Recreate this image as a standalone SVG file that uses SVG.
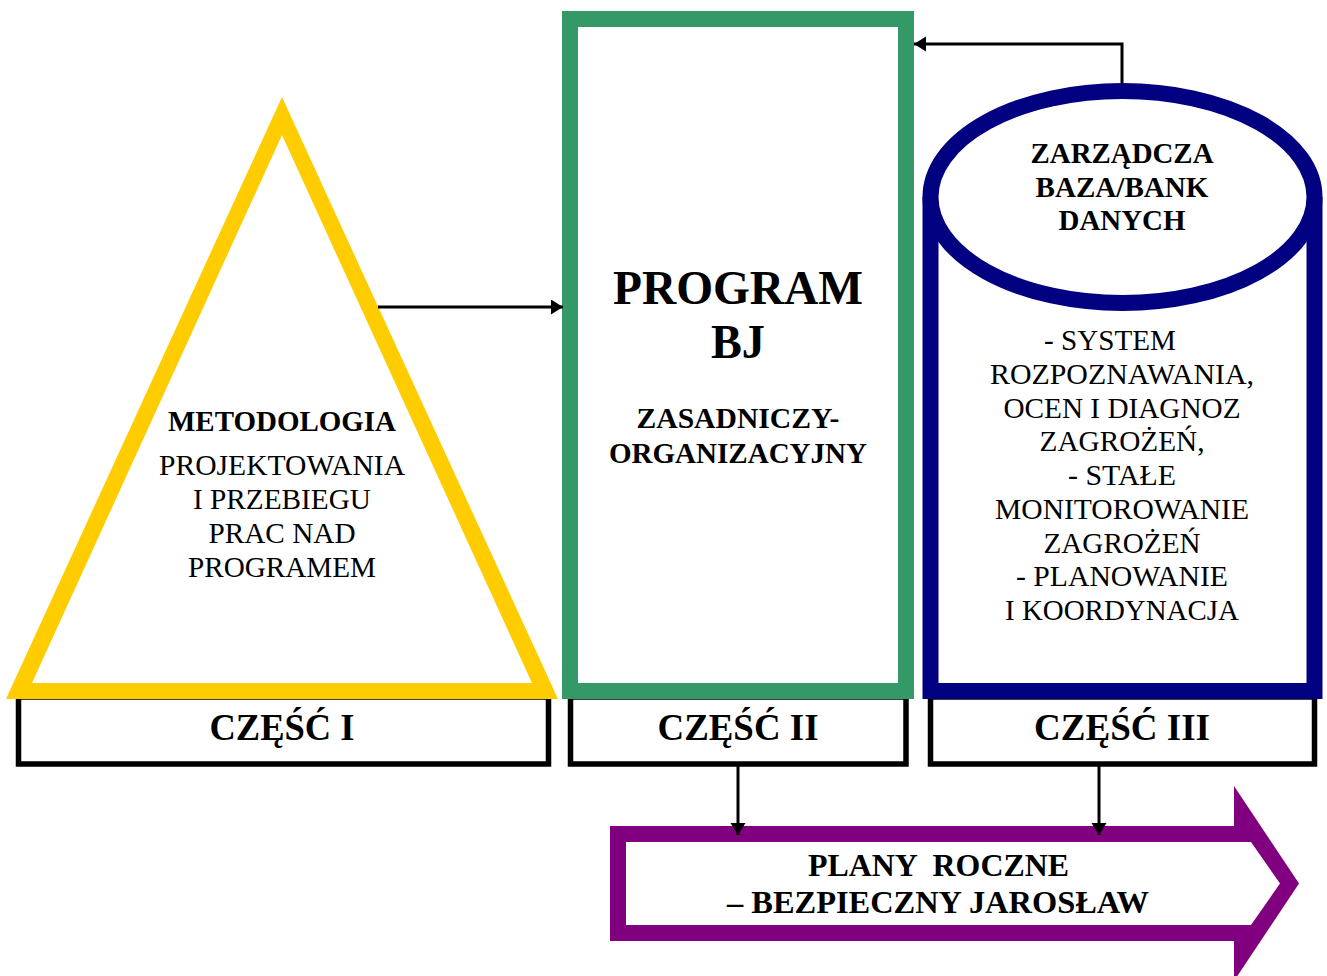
<svg xmlns="http://www.w3.org/2000/svg" width="1327" height="976" viewBox="0 0 1327 976">
<style>
  text { font-family: "Liberation Serif", "Times New Roman", serif; fill: #000; text-anchor: middle; }
  .b { font-weight: bold; }
  .r { font-size: 29px; }
  .m { font-size: 29px; font-weight: bold; }
  .part { font-size: 37px; font-weight: bold; }
  .box { fill: #fff; stroke: #000; stroke-width: 5.5; }
  .conn { fill: none; stroke: #000; stroke-width: 3; }
</style>
<defs>
  <marker id="ah" markerUnits="userSpaceOnUse" markerWidth="14" markerHeight="16" refX="12" refY="7.5" orient="auto">
    <path d="M0,0 L12,7.5 L0,15 Z" fill="#000"/>
  </marker>
</defs>
<rect width="1327" height="976" fill="#fff"/>

<g id="part1">
  <rect class="box" x="18.5" y="697" width="530" height="67"/>
  <text class="part" x="282" y="740" textLength="145" lengthAdjust="spacingAndGlyphs">CZĘŚĆ I</text>
</g>
<g id="part2">
  <rect class="box" x="570.5" y="697" width="335.5" height="67"/>
  <text class="part" x="738" y="740" textLength="161" lengthAdjust="spacingAndGlyphs">CZĘŚĆ II</text>
</g>
<g id="part3">
  <rect class="box" x="930.5" y="697" width="384" height="67"/>
  <text class="part" x="1122" y="740" textLength="176" lengthAdjust="spacingAndGlyphs">CZĘŚĆ III</text>
</g>

<g id="metodologia">
  <path fill="#FFCC00" fill-rule="evenodd" d="M282,97 L6,699 L558,699 Z M282,135 L32,683 L532,683 Z"/>
  <text class="m" x="282" y="431" textLength="228" lengthAdjust="spacingAndGlyphs">METODOLOGIA</text>
  <text class="r" x="282" y="475" textLength="246" lengthAdjust="spacingAndGlyphs">PROJEKTOWANIA</text>
  <text class="r" x="282" y="509" textLength="178" lengthAdjust="spacingAndGlyphs">I PRZEBIEGU</text>
  <text class="r" x="282" y="543" textLength="147" lengthAdjust="spacingAndGlyphs">PRAC NAD</text>
  <text class="r" x="282" y="577" textLength="188" lengthAdjust="spacingAndGlyphs">PROGRAMEM</text>
</g>

<g id="program">
  <rect x="570" y="19" width="336" height="672" fill="#fff" stroke="#339966" stroke-width="16"/>
  <text class="b" x="738" y="304" font-size="48" textLength="250" lengthAdjust="spacingAndGlyphs">PROGRAM</text>
  <text class="b" x="738" y="358" font-size="48" textLength="54" lengthAdjust="spacingAndGlyphs">BJ</text>
  <text class="m" x="738" y="428" textLength="203" lengthAdjust="spacingAndGlyphs">ZASADNICZY-</text>
  <text class="m" x="738" y="463" textLength="258" lengthAdjust="spacingAndGlyphs">ORGANIZACYJNY</text>
</g>

<g id="baza">
  <path d="M930.5,197 L930.5,691 L1314.5,691 L1314.5,197" fill="#fff" stroke="#000080" stroke-width="16" stroke-linejoin="miter"/>
  <ellipse cx="1122.5" cy="197" rx="192" ry="106" fill="#fff" stroke="#000080" stroke-width="16"/>
  <text class="m" x="1122" y="163" textLength="183" lengthAdjust="spacingAndGlyphs">ZARZĄDCZA</text>
  <text class="m" x="1122" y="197" textLength="173" lengthAdjust="spacingAndGlyphs">BAZA/BANK</text>
  <text class="m" x="1122" y="230" textLength="127" lengthAdjust="spacingAndGlyphs">DANYCH</text>
  <text class="r" x="1110" y="350" textLength="132" lengthAdjust="spacingAndGlyphs">- SYSTEM</text>
  <text class="r" x="1122" y="384" textLength="264" lengthAdjust="spacingAndGlyphs">ROZPOZNAWANIA,</text>
  <text class="r" x="1122" y="418" textLength="237" lengthAdjust="spacingAndGlyphs">OCEN I DIAGNOZ</text>
  <text class="r" x="1122" y="451" textLength="165" lengthAdjust="spacingAndGlyphs">ZAGROŻEŃ,</text>
  <text class="r" x="1122" y="485" textLength="108" lengthAdjust="spacingAndGlyphs">- STAŁE</text>
  <text class="r" x="1122" y="519" textLength="254" lengthAdjust="spacingAndGlyphs">MONITOROWANIE</text>
  <text class="r" x="1122" y="553" textLength="157" lengthAdjust="spacingAndGlyphs">ZAGROŻEŃ</text>
  <text class="r" x="1122" y="586" textLength="212" lengthAdjust="spacingAndGlyphs">- PLANOWANIE</text>
  <text class="r" x="1122" y="620" textLength="234" lengthAdjust="spacingAndGlyphs">I KOORDYNACJA</text>
</g>

<g id="plany">
  <path fill="#800080" fill-rule="evenodd" d="M610,826 L1234,826 L1234,786 L1299,883.5 L1234,981 L1234,941 L610,941 Z M626,842 L1251,842 L1280,883.5 L1251,925 L626,925 Z"/>
  <text class="b" x="938.5" y="876" font-size="31" textLength="261" lengthAdjust="spacingAndGlyphs" xml:space="preserve">PLANY  ROCZNE</text>
  <text class="b" x="938" y="913" font-size="31" textLength="422" lengthAdjust="spacingAndGlyphs">– BEZPIECZNY JAROSŁAW</text>
</g>

<g id="connectors">
  <line class="conn" x1="378" y1="307" x2="563" y2="307" marker-end="url(#ah)"/>
  <polyline class="conn" points="1122,83 1122,44 914,44" marker-end="url(#ah)"/>
  <line class="conn" x1="738" y1="766" x2="738" y2="835" marker-end="url(#ah)"/>
  <line class="conn" x1="1099" y1="766" x2="1099" y2="835" marker-end="url(#ah)"/>
</g>
</svg>
